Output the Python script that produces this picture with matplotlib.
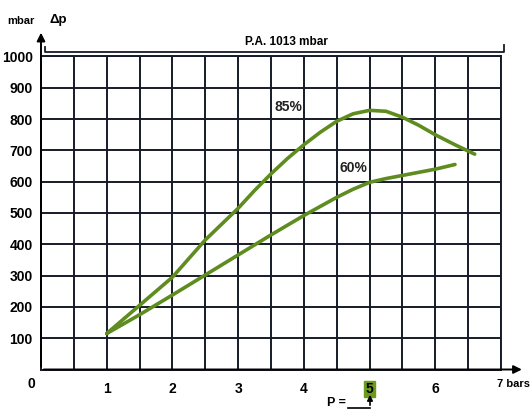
import numpy as np
import matplotlib
matplotlib.use("Agg")
import matplotlib.pyplot as plt

plt.rcParams['font.family'] = ['Liberation Sans', 'DejaVu Sans']
plt.rcParams['font.weight'] = 'bold'

# Data
x85 = [1, 1.5, 2, 2.5, 3, 3.25, 3.5, 3.75, 4, 4.25, 4.5, 4.75, 5, 5.25, 5.5, 5.75, 6, 6.3, 6.6]
y85 = [115, 205, 295, 414, 515, 572, 625, 674, 718, 758, 793, 817, 828, 825, 806, 780, 750, 718, 688]
x60 = [1, 1.5, 2, 2.5, 3, 3.5, 4, 4.5, 4.75, 5, 5.25, 5.5, 5.75, 6, 6.3]
y60 = [115, 175, 238, 302, 366, 430, 492, 550, 576, 598, 610, 620, 630, 640, 655]
xticks = [1, 2, 3, 4, 5, 6]
yticks = [100, 200, 300, 400, 500, 600, 700, 800, 900, 1000]

W, H = 531, 411
fig = plt.figure(figsize=(W/100, H/100), dpi=100)
ax = fig.add_axes([41/W, 1 - 369.5/H, 460/W, 313/H])
ax.set_xlim(0, 7)
ax.set_ylim(0, 1000)

gridc = '#161b28'
ax.set_xticks(xticks)
ax.set_xticks(np.arange(0, 7.01, 0.5), minor=True)
ax.set_yticks(yticks)
ax.set_xticklabels([str(v) for v in xticks])
ax.tick_params(axis='both', which='both', length=0)
ax.tick_params(axis='x', pad=9, labelsize=10)
ax.tick_params(axis='y', pad=6, labelsize=10)
ax.grid(True, which='both', color=gridc, lw=1.4)
for s in ax.spines.values():
    s.set_color(gridc)
    s.set_linewidth(1.4)

green = '#5e8c1f'
ax.plot(x85, y85, color=green, lw=2.6, solid_capstyle='round', solid_joinstyle='round', zorder=3)
ax.plot(x60, y60, color=green, lw=2.6, solid_capstyle='round', solid_joinstyle='round', zorder=3)

ax.text(3.77, 838, '85%', ha='center', va='center', fontsize=10, color='#222222')
ax.text(4.76, 644, '60%', ha='center', va='center', fontsize=10, color='#222222')

# highlight 5 label
for lab in ax.get_xticklabels():
    if lab.get_text() == '5':
        lab.set_bbox(dict(facecolor='#6b9a1e', edgecolor='#6b9a1e', pad=1.0))

# axis arrows
ax.annotate('', xy=(0, 1085), xytext=(0, 0),
            arrowprops=dict(arrowstyle='-|>', color='black', lw=1.4, mutation_scale=12),
            annotation_clip=False)
ax.annotate('', xy=(7.36, 0), xytext=(0, 0),
            arrowprops=dict(arrowstyle='-|>', color='black', lw=1.4, mutation_scale=12),
            annotation_clip=False)

# bracket P.A.
ax.plot([0.06, 0.06, 7.04, 7.04], [1030, 1014, 1014, 1036], color=gridc, lw=1.3, clip_on=False)
ax.text(3.73, 1047, 'P.A. 1013 mbar', ha='center', va='center', fontsize=8.5)

# extra axis texts
ax.text(-0.15, -45, '0', ha='center', va='center', fontsize=10)
ax.text(6.94, -45, '7 bars', ha='left', va='center', fontsize=8)
fig.text(21/W, 1 - 21/H, 'mbar', ha='center', va='center', fontsize=8)
fig.text(58/W, 1 - 20/H, 'Δp', ha='center', va='center', fontsize=9.5)

# P = label with arrow
fig.text(336/W, 1 - 403/H, 'P =', ha='center', va='center', fontsize=9)
fig.add_artist(plt.Line2D([348/W, 370/W], [1 - 408/H, 1 - 408/H], color='black', lw=1.2))
fig.add_artist(matplotlib.patches.FancyArrowPatch((370/W, 1 - 408/H), (370/W, 1 - 392/H),
               transform=fig.transFigure, arrowstyle='-|>', mutation_scale=8, color='black', lw=1.2))

fig.savefig('out.png', dpi=100, facecolor='white')
